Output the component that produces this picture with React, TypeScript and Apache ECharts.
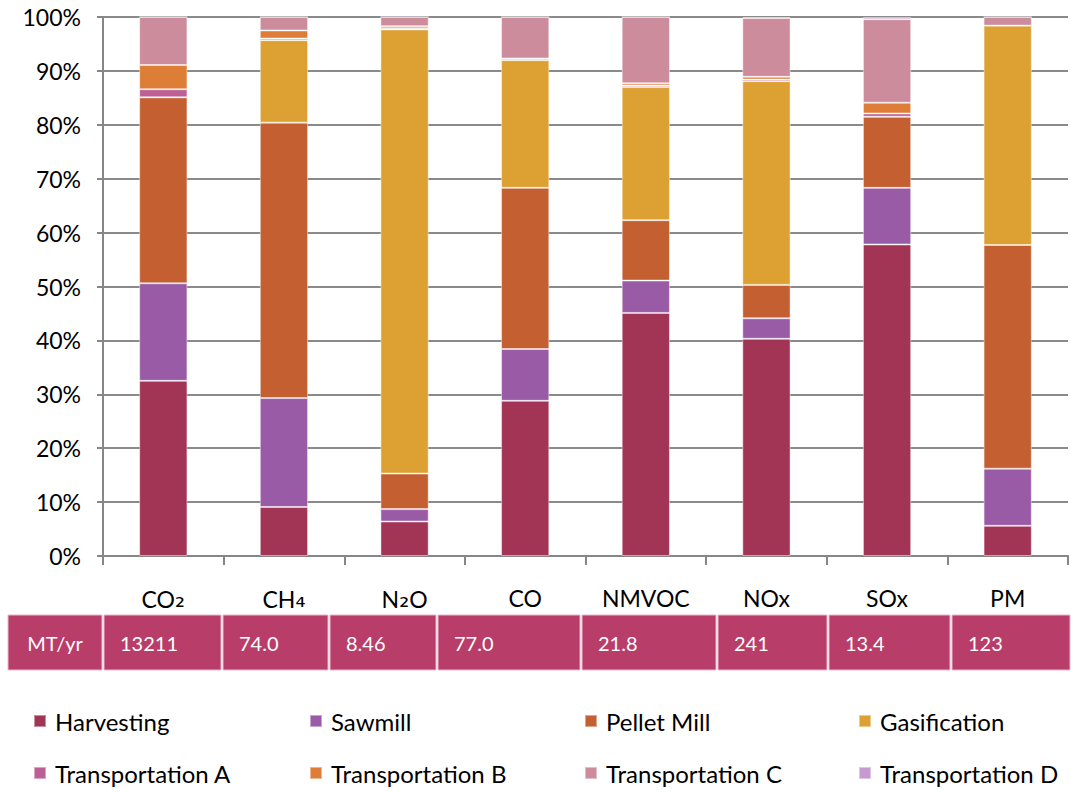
import React, { useEffect, useRef } from "react";
import * as echarts from "echarts";

// Pollutants and their annual totals (shown in the table under the axis)
const categories = ["CO₂", "CH₄", "N₂O", "CO", "NMVOC", "NOx", "SOx", "PM"];
const annualTonnes = ["13211", "74.0", "8.46", "77.0", "21.8", "241", "13.4", "123"];
const tableHeader = "MT/yr";

// Share of each pollutant by process stage (%)
const harvesting = [32.5, 9.1, 6.4, 28.8, 45.1, 40.3, 57.8, 5.6];
const sawmill = [18.1, 20.2, 2.3, 9.6, 6.0, 3.8, 10.5, 10.6];
const pelletMill = [34.5, 51.1, 6.6, 29.9, 11.2, 6.2, 13.2, 41.5];
const gasification = [0, 15.3, 82.4, 23.7, 24.7, 37.8, 0, 40.7];
const transportA = [1.5, 0.3, 0.2, 0, 0.3, 0.3, 0.6, 0];
const transportB = [4.5, 1.5, 0.4, 0.3, 0.4, 0.5, 2.0, 0];
const transportC = [8.9, 2.5, 1.7, 7.7, 12.3, 10.9, 15.5, 1.6];
const transportD = [0, 0, 0, 0, 0, 0.2, 0.4, 0];

const stages = [
  { name: "Harvesting", data: harvesting, color: "#A23456" },
  { name: "Sawmill", data: sawmill, color: "#9A5BA6" },
  { name: "Pellet Mill", data: pelletMill, color: "#C35F30" },
  { name: "Gasification", data: gasification, color: "#DDA133" },
  { name: "Transportation A", data: transportA, color: "#BC5F94" },
  { name: "Transportation B", data: transportB, color: "#DE7D35" },
  { name: "Transportation C", data: transportC, color: "#CC8C9C" },
  { name: "Transportation D", data: transportD, color: "#C59ACF" },
];

const FONT = "Lato, 'Noto Sans', sans-serif";
const SUB_FONT = "'DejaVu Sans', 'Noto Sans', sans-serif";

// Table layout: cell edges along x (first cell is the unit header)
const tableEdges = [7, 103, 222, 329, 437, 581, 717, 828, 951, 1071];
const tableTop = 615;
const tableHeight = 55;
const tableFill = "#B93D69";

// Legend layout: 4 columns x 2 rows
const legendCols = [33, 309, 584, 858];
const legendRows = [709, 761];

// Wrap subscript digits in a rich-text token so they all use one font
const withSubscripts = (label: string) => label.replace(/([₀-₉]+)/g, "{sub|$1}");

export default function App() {
  const ref = useRef<HTMLDivElement>(null);

  useEffect(() => {
    if (!ref.current) return;
    const chart = echarts.init(ref.current, undefined, { renderer: "svg" });

    const tableGraphics: any[] = [];
    const cells = [tableHeader, ...annualTonnes];
    cells.forEach((txt, i) => {
      const x0 = tableEdges[i];
      const x1 = tableEdges[i + 1];
      tableGraphics.push({
        type: "rect",
        shape: { x: x0 + 1, y: tableTop, width: x1 - x0 - 2, height: tableHeight },
        style: { fill: tableFill, stroke: "#E9B9C9", lineWidth: 1 },
        silent: true,
      });
      tableGraphics.push({
        type: "text",
        x: i === 0 ? (x0 + x1) / 2 : x0 + 17,
        y: tableTop + tableHeight / 2,
        style: {
          text: txt,
          fill: "#FFFFFF",
          font: `20px ${FONT}`,
          textAlign: i === 0 ? "center" : "left",
          textVerticalAlign: "middle",
        },
        silent: true,
      });
    });

    const legends = stages.map((s, i) => ({
      data: [s.name],
      left: legendCols[i % 4],
      top: legendRows[Math.floor(i / 4)],
      padding: 0,
      icon: "rect",
      itemWidth: 12,
      itemHeight: 12,
      itemGap: 0,
      selectedMode: false,
      textStyle: { fontFamily: FONT, fontSize: 24, color: "#000", padding: [0, 0, 0, 4] },
    }));

    chart.setOption({
      animation: false,
      backgroundColor: "#FFFFFF",
      grid: { left: 103, right: 3, top: 17, bottom: 236, containLabel: false },
      legend: legends,
      xAxis: {
        type: "category",
        data: categories,
        boundaryGap: true,
        axisLine: { show: true, lineStyle: { color: "#868686", width: 2 } },
        axisTick: { show: true, alignWithLabel: false, length: 9, lineStyle: { color: "#868686", width: 2 } },
        axisLabel: {
          interval: 0,
          color: "#000",
          fontFamily: FONT,
          fontSize: 23,
          margin: 30,
          formatter: (v: string) => withSubscripts(v),
          rich: {
            sub: { fontFamily: SUB_FONT, fontSize: 25, color: "#000" },
          },
        },
      },
      yAxis: {
        type: "value",
        min: 0,
        max: 100,
        interval: 10,
        axisLine: { show: true, lineStyle: { color: "#868686", width: 2 } },
        axisTick: { show: true, length: 6, lineStyle: { color: "#868686", width: 2 } },
        splitLine: { show: true, lineStyle: { color: "#8A8A8A", width: 2 } },
        axisLabel: {
          color: "#000",
          fontFamily: FONT,
          fontSize: 23,
          margin: 22,
          formatter: "{value}%",
        },
      },
      series: stages.map((s) => ({
        name: s.name,
        type: "bar",
        stack: "total",
        barWidth: "40%",
        data: s.data,
        itemStyle: {
          color: s.color,
          borderColor: "rgba(255,255,255,0.45)",
          borderWidth: 1,
        },
      })),
      graphic: tableGraphics,
    });

    return () => chart.dispose();
  }, []);

  return (
    <div
      ref={ref}
      style={{ position: "fixed", left: 0, top: 0, width: 1071, height: 792, background: "#fff" }}
    />
  );
}
